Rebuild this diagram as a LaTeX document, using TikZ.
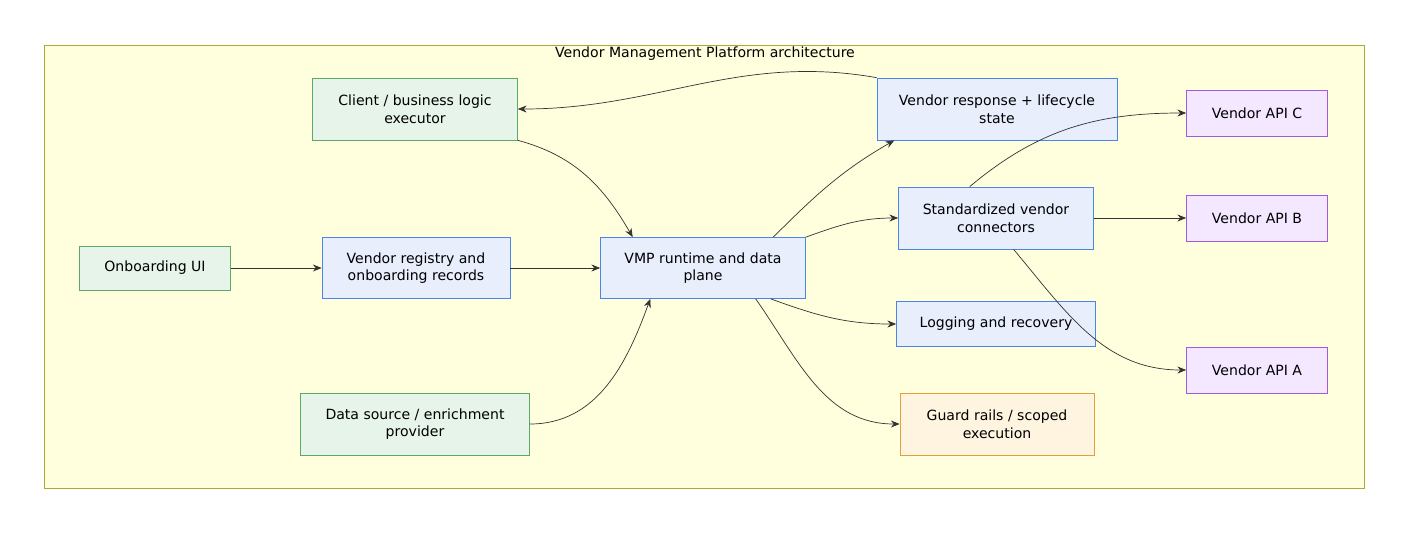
\documentclass[tikz,border=0pt]{standalone}
\usepackage{fontspec}
\setmainfont{DejaVu Sans}
\usetikzlibrary{arrows.meta}
\definecolor{frameyellow}{HTML}{FFFFDE}
\definecolor{frameline}{HTML}{AAAA33}
\definecolor{bluefill}{HTML}{E8EEFC}
\definecolor{blueline}{HTML}{4A86E8}
\definecolor{greenfill}{HTML}{E6F4EA}
\definecolor{greenline}{HTML}{5AA86B}
\definecolor{purplefill}{HTML}{F3E8FF}
\definecolor{purpleline}{HTML}{A05CE0}
\definecolor{orangefill}{HTML}{FFF4E0}
\definecolor{orangeline}{HTML}{E0A040}

\tikzset{
  box/.style={draw, align=center, font=\fontsize{8}{10}\selectfont, inner sep=2pt},
  core/.style={box, fill=bluefill, draw=blueline},
  client/.style={box, fill=greenfill, draw=greenline},
  vendor/.style={box, fill=purplefill, draw=purpleline, minimum width=2.82cm, minimum height=0.92cm},
  guard/.style={box, fill=orangefill, draw=orangeline},
  flow/.style={draw=black!80, -{Stealth[length=5pt,width=4pt]}}
}

\begin{document}
\begin{tikzpicture}[x=0.02cm, y=-0.02cm]
    \useasboundingbox (0,0) rectangle (1409,532);
    % Frame
    \draw[fill=frameyellow, draw=frameline] (44,45) rectangle (1364,488);
    \node[font=\fontsize{8}{10}\selectfont] (title) at (705,54) {Vendor Management Platform architecture};

    % Left column
    \node[client, minimum width=3.02cm, minimum height=0.88cm] (ui) at (155,268) {Onboarding UI};
    \node[client, minimum width=4.1cm, minimum height=1.24cm] (client) at (415,109) {Client / business logic\\executor};
    \node[core, minimum width=3.76cm, minimum height=1.22cm] (registry) at (416,268) {Vendor registry and\\onboarding records};
    \node[client, minimum width=4.58cm, minimum height=1.24cm] (source) at (415,424) {Data source / enrichment\\provider};

    % Runtime
    \node[core, minimum width=4.1cm, minimum height=1.22cm] (vmp) at (703,268) {VMP runtime and data\\plane};

    % Right column
    \node[core, minimum width=4.8cm, minimum height=1.24cm] (response) at (997,109) {Vendor response + lifecycle\\state};
    \node[core, minimum width=3.9cm, minimum height=1.24cm] (connectors) at (996,218) {Standardized vendor\\connectors};
    \node[core, minimum width=3.98cm, minimum height=0.9cm] (logging) at (996,324) {Logging and recovery};
    \node[guard, minimum width=3.88cm, minimum height=1.24cm] (guard) at (997,424) {Guard rails / scoped\\execution};

    % Vendors
    \node[vendor] (apic) at (1257,113) {Vendor API C};
    \node[vendor] (apib) at (1257,218) {Vendor API B};
    \node[vendor] (apia) at (1257,370) {Vendor API A};

    % Connections
    \draw[flow] (ui) -- (registry);
    \draw[flow] (registry) -- (vmp);
    \draw[flow] (client.south east) to[out=-15, in=120] ([xshift=-40pt]vmp.north);
    \draw[flow] (source.east) to[out=0, in=-110] ([xshift=-30pt]vmp.south);
    \draw[flow] ([xshift=40pt]vmp.north) to[out=45, in=210] ([xshift=10pt]response.south west);
    \draw[flow] (vmp.north east) to[out=20, in=180] (connectors.west);
    \draw[flow] ([xshift=-20pt]vmp.south east) to[out=-20, in=180] (logging.west);
    \draw[flow] ([xshift=30pt]vmp.south) to[out=-55, in=180] (guard.west);
    \draw[flow] (response.north west) to[out=170, in=0] (client.east);
    \draw[flow] ([xshift=-15pt]connectors.north) to[out=40, in=180] (apic.west);
    \draw[flow] (connectors) -- (apib);
    \draw[flow] ([xshift=10pt]connectors.south) to[out=-50, in=180] (apia.west);
\end{tikzpicture}
\end{document}
